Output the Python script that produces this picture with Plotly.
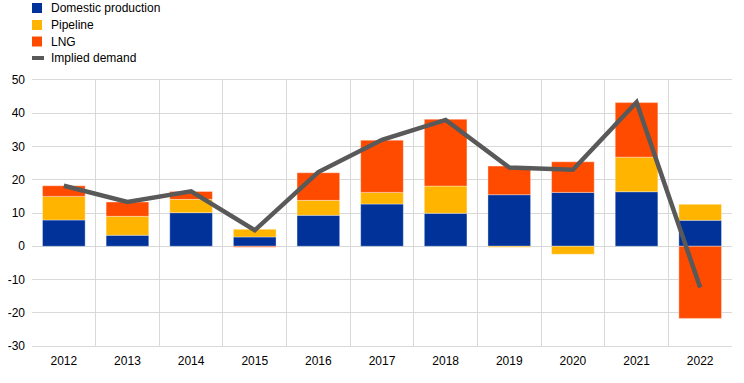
import plotly.graph_objects as go

years = ["2012", "2013", "2014", "2015", "2016", "2017", "2018", "2019", "2020", "2021", "2022"]
domestic = [7.9, 3.3, 10.1, 2.8, 9.3, 12.7, 9.9, 15.5, 16.2, 16.4, 7.8]
pipeline = [7.1, 5.7, 4.0, 2.3, 4.5, 3.5, 8.2, -0.3, -2.4, 10.4, 4.8]
lng = [3.2, 4.3, 2.4, -0.3, 8.3, 15.7, 20.1, 8.6, 9.2, 16.4, -21.7]
demand = [18.2, 13.3, 16.5, 4.8, 22.3, 32.0, 38.0, 23.7, 23.0, 43.3, -12.4]
y_ticks = [-30, -20, -10, 0, 10, 20, 30, 40, 50]
y_tick_labels = ["-30", "-20", "-10", "0", "10", "20", "30", "40", "50"]

series_names = ["Domestic production", "Pipeline", "LNG", "Implied demand"]
colors = ["#003299", "#FFB400", "#FF4B00", "#595959"]

W, H = 744, 383
ML, MR, MT, MB = 32, 12, 80, 37
PW, PH = W - ML - MR, H - MT - MB

fig = go.Figure()
edge = dict(color="rgba(255,255,255,0.5)", width=0.7)
for name, vals, col in zip(series_names[:3], [domestic, pipeline, lng], colors[:3]):
    fig.add_trace(go.Bar(x=years, y=vals, name=name,
                         marker=dict(color=col, line=edge)))
fig.add_trace(go.Scatter(x=years, y=demand, name=series_names[3], mode="lines",
                         line=dict(color=colors[3], width=4.5)))


def px_x(p):
    return (p - ML) / PW


def px_y(p):
    return (H - MB - p) / PH


# custom legend (symbols + labels) positioned in the top margin
shapes = []
annotations = []
centers = [8, 25, 41.5, 58]
for i, (name, col) in enumerate(zip(series_names, colors)):
    cy = centers[i]
    if i < 3:
        shapes.append(dict(type="rect", xref="paper", yref="paper",
                           x0=px_x(32), x1=px_x(42), y0=px_y(cy - 5), y1=px_y(cy + 5),
                           fillcolor=col, line=dict(width=0)))
    else:
        shapes.append(dict(type="rect", xref="paper", yref="paper",
                           x0=px_x(32), x1=px_x(44), y0=px_y(cy - 2), y1=px_y(cy + 2),
                           fillcolor=col, line=dict(width=0)))
    annotations.append(dict(xref="paper", yref="paper", x=px_x(49), y=px_y(cy),
                            xanchor="left", yanchor="middle", text=name, showarrow=False,
                            font=dict(size=12, color="#000000")))

fig.update_layout(
    width=W, height=H,
    barmode="relative", bargap=0.33,
    plot_bgcolor="white", paper_bgcolor="white",
    margin=dict(l=ML, r=MR, t=MT, b=MB, autoexpand=False),
    font=dict(family="Liberation Sans, Arial, sans-serif", size=12, color="#000000"),
    showlegend=False,
    shapes=shapes,
    annotations=annotations,
)
fig.update_xaxes(showgrid=True, gridcolor="#d9d9d9", gridwidth=1,
                 tickson="boundaries", ticks="", showline=True, linecolor="#d9d9d9",
                 mirror=True, zeroline=False, ticklabelstandoff=4)
fig.update_yaxes(range=[-30, 50], tickvals=y_ticks, ticktext=y_tick_labels,
                 showgrid=True, gridcolor="#d9d9d9",
                 gridwidth=1, zeroline=True, zerolinecolor="#d9d9d9", zerolinewidth=1,
                 showline=False, ticks="", ticklabelstandoff=6)

fig.write_html("out.html", post_script="document.body.style.margin='0';",
               config={"displayModeBar": False})
